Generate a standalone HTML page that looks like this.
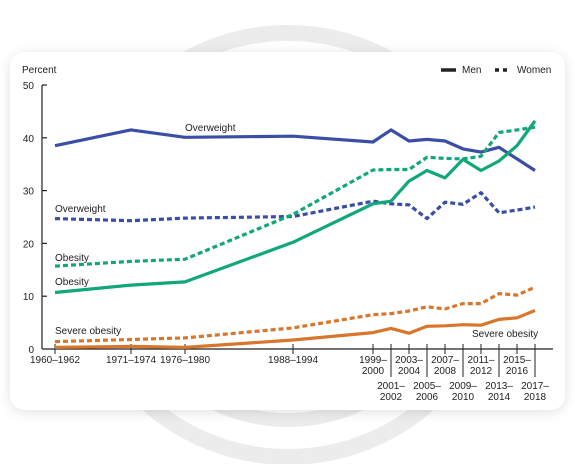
<!DOCTYPE html>
<html><head><meta charset="utf-8"><style>
html,body{margin:0;padding:0;background:#fff;}
body{width:575px;height:464px;position:relative;overflow:hidden;font-family:"Liberation Sans",sans-serif;}
#bg{position:absolute;left:0;top:0}
#card{position:absolute;left:10px;top:52px;width:555px;height:358px;background:#fff;border-radius:14px;box-shadow:0 2px 12px rgba(0,0,0,0.12);}
#chart{position:absolute;left:0;top:0}
</style></head><body>
<svg id="bg" width="575" height="464">
<circle cx="288" cy="245" r="212" fill="none" stroke="#ececec" stroke-width="16"/>
<circle cx="288" cy="250" r="170" fill="none" stroke="#ececec" stroke-width="14"/>
</svg>
<div id="card"></div>
<svg id="chart" width="575" height="464" font-family="Liberation Sans, sans-serif" font-size="10" fill="#222"></svg>
<script>
const categories=["1960–1962","1971–1974","1976–1980","1988–1994","1999–2000","2001–2002","2003–2004","2005–2006","2007–2008","2009–2010","2011–2012","2013–2014","2015–2016","2017–2018"];
const menOverweight=[38.5,41.5,40.1,40.3,39.2,41.5,39.4,39.7,39.4,37.9,37.3,38.2,36.0,33.8];
const womenOverweight=[24.7,24.3,24.8,25.1,28.0,27.5,27.3,24.7,27.8,27.4,29.6,25.8,26.3,26.9];
const menObesity=[10.7,12.1,12.7,20.2,27.5,28.0,31.8,33.8,32.4,35.9,33.8,35.6,38.5,43.2];
const womenObesity=[15.7,16.6,17.0,25.5,33.9,34.0,34.0,36.3,36.1,36.0,36.5,41.0,41.5,42.0];
const menSevere=[0.3,0.5,0.3,1.7,3.1,3.9,3.0,4.3,4.4,4.6,4.5,5.6,5.9,7.3];
const womenSevere=[1.4,1.8,2.1,4.0,6.5,6.7,7.2,8.0,7.6,8.6,8.6,10.5,10.2,11.7];
const yTicks=[0,10,20,30,40,50];

const svg=document.getElementById('chart');
const NS='http://www.w3.org/2000/svg';
function mk(t,a){const e=document.createElementNS(NS,t);for(const k in a)e.setAttribute(k,a[k]);svg.appendChild(e);return e;}
// x axis: survey midpoint years mapped piecewise (chart uses irregular spacing)
const midYears=categories.map(c=>{const p=c.split('–').map(Number);return (p[0]+p[1])/2;});
function x(i){
  const y=midYears[i];
  if(y<=1972.5) return 55+(y-1961)/(11.5)*76;
  if(y<=1978) return 131+(y-1972.5)/5.5*54;
  if(y<=1991) return 185+(y-1978)/13*108;
  if(y<=1999.5) return 293+(y-1991)/8.5*80;
  return 373+(y-1999.5)/2*18;
}
function yS(v){return 349-v*5.28;}
const C={blue:'#3b4ea6',green:'#10a77b',orange:'#d8762c'};

// axes
let e=mk('line',{x1:42,y1:85,x2:42,y2:349,stroke:'#222','stroke-width':1.2});

e=mk('line',{x1:42,y1:349,x2:553,y2:349,stroke:'#222','stroke-width':1.2});

yTicks.forEach(t=>{
  if(t>0){const l=mk('line',{x1:42,y1:yS(t),x2:47,y2:yS(t),stroke:'#222','stroke-width':1.2});
  }
  const tx=mk('text',{x:34,y:yS(t)+4,'text-anchor':'end'});tx.textContent=t;
  
});
e=mk('text',{x:22,y:73});e.textContent='Percent';


categories.forEach((c,i)=>{
  const xx=x(i);
  const low=i>=5&&i%2==1;
  const tk=mk('line',{x1:xx,y1:344,x2:xx,y2:low?377:354,stroke:'#222','stroke-width':1});
  
  const p=c.split('–');
  if(i<4){const t=mk('text',{x:xx,y:363,'text-anchor':'middle'});t.textContent=c;
    }
  else{
    const y0=low?389:363;
    const t1=mk('text',{x:xx,y:y0,'text-anchor':'middle'});t1.textContent=p[0]+'–';
    
    const t2=mk('text',{x:xx,y:y0+11,'text-anchor':'middle'});t2.textContent=p[1];
    
  }
});

function line(vals,color,dashed,name){
  const d=vals.map((v,i)=>(i?'L':'M')+x(i).toFixed(1)+','+yS(v).toFixed(1)).join('');
  const p=mk('path',{d:d,fill:'none',stroke:color,'stroke-width':3.2,'stroke-linejoin':'round'});
  if(dashed)p.setAttribute('stroke-dasharray','5 3');
  
  
}
line(womenSevere,C.orange,true,'women-severe-obesity-line');
line(menSevere,C.orange,false,'men-severe-obesity-line');
line(womenOverweight,C.blue,true,'women-overweight-line');
line(menOverweight,C.blue,false,'men-overweight-line');
line(womenObesity,C.green,true,'women-obesity-line');
line(menObesity,C.green,false,'men-obesity-line');

function lbl(t,xx,yy,n){const e=mk('text',{x:xx,y:yy});e.textContent=t;
  }
lbl('Overweight',185,131,'men-overweight-label');
lbl('Overweight',55,212,'women-overweight-label');
lbl('Obesity',55,261,'women-obesity-label');
lbl('Obesity',55,285,'men-obesity-label');
lbl('Severe obesity',55,334,'women-severe-obesity-label');
lbl('Severe obesity',472,337,'men-severe-obesity-label');

// legend
e=mk('line',{x1:441,y1:70,x2:456,y2:70,stroke:'#222','stroke-width':3.5});

lbl('Men',462,73,'legend-men-label');
e=mk('line',{x1:495,y1:70,x2:511,y2:70,stroke:'#222','stroke-width':3.5,'stroke-dasharray':'4 4'});

lbl('Women',517,73,'legend-women-label');
</script>
</body></html>
